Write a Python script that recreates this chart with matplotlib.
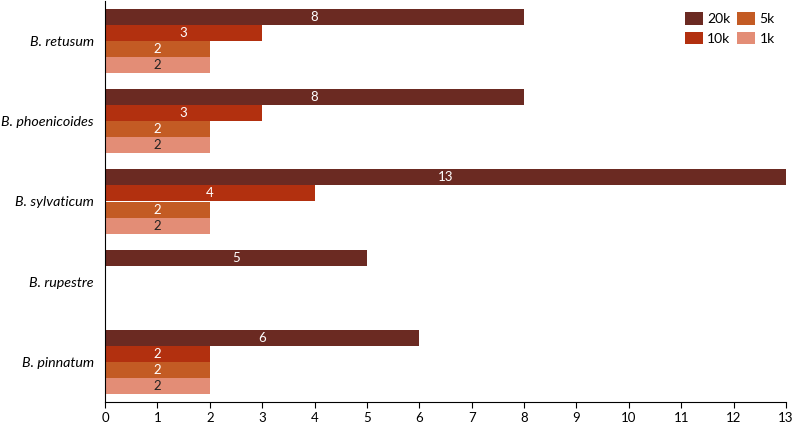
import numpy as np
import matplotlib.pyplot as plt

species = ["B. retusum", "B. phoenicoides", "B. sylvaticum", "B. rupestre", "B. pinnatum"]
series_names = ["20k", "10k", "5k", "1k"]
vals_20k = [8, 8, 13, 5, 6]
vals_10k = [3, 3, 4, 0, 2]
vals_5k = [2, 2, 2, 0, 2]
vals_1k = [2, 2, 2, 0, 2]
colors = ["#6B2A22", "#B2300F", "#C35B24", "#E38D76"]
label_colors = ["white", "white", "white", "#222222"]

plt.rcParams['font.family'] = ['Lato', 'DejaVu Sans']

fig = plt.figure(figsize=(7.94, 4.24), dpi=100)
ax = fig.add_axes([105 / 794, 22 / 424, 681 / 794, 401 / 424])

y = np.arange(len(species))
h = 0.2
offsets = [-0.3, -0.1, 0.1, 0.3]
for name, vals, off, col, lc in zip(series_names, [vals_20k, vals_10k, vals_5k, vals_1k],
                                     offsets, colors, label_colors):
    vals = np.array(vals, dtype=float)
    bars = ax.barh(y + off, vals, height=h, color=col, label=name)
    for b, v in zip(bars, vals):
        if v > 0:
            ax.text(v / 2, b.get_y() + h / 2, f"{int(v)}", ha='center', va='center',
                    color=lc, fontsize=9.5)

ax.set_ylim(len(species) - 0.5, -0.5)
ax.set_xlim(0, 13)
ax.set_xticks(range(14))
ax.set_yticks(y)
ax.set_yticklabels(species, fontstyle='italic', fontsize=10.3)
ax.tick_params(axis='y', length=0, pad=8)
ax.tick_params(axis='x', labelsize=9.5, direction='out', length=4)
for s in ['top', 'right']:
    ax.spines[s].set_visible(False)

ax.legend(ncol=2, loc='upper right', frameon=False, fontsize=10, handlelength=1.3,
          handleheight=1.0, columnspacing=0.5, handletextpad=0.3, labelspacing=0.5,
          borderaxespad=0.4, bbox_to_anchor=(1.0, 1.0))

fig.savefig("out.png", dpi=100)
